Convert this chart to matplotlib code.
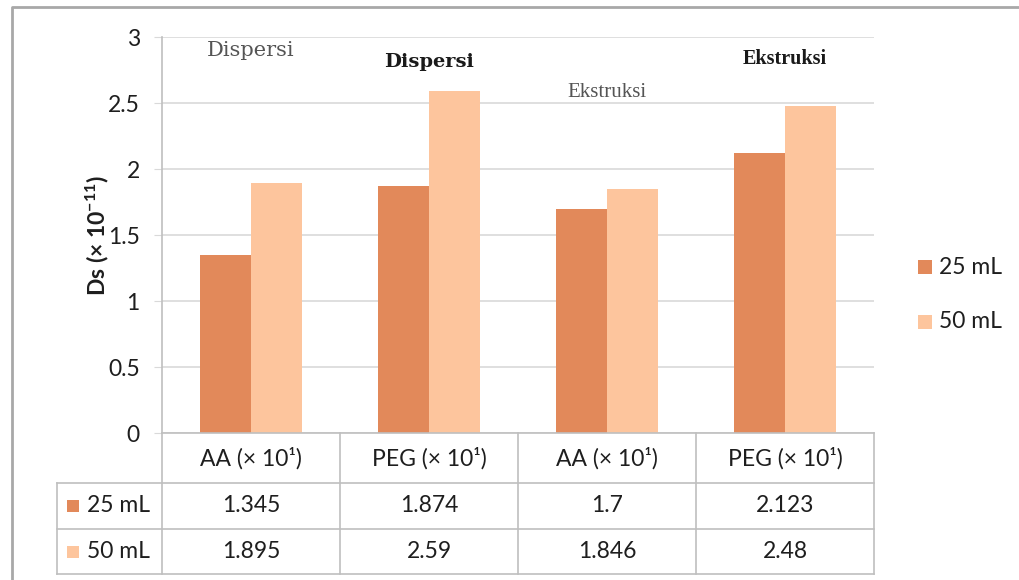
import matplotlib
matplotlib.use("Agg")
import matplotlib.pyplot as plt
from matplotlib.lines import Line2D
from matplotlib.patches import Rectangle
import numpy as np

# Data
categories = ["AA (× 10¹)", "PEG (× 10¹)", "AA (× 10¹)", "PEG (× 10¹)"]
series_names = ["25 mL", "50 mL"]
vals_25 = [1.345, 1.874, 1.7, 2.123]
vals_50 = [1.895, 2.59, 1.846, 2.48]
value_labels_25 = ["1.345", "1.874", "1.7", "2.123"]
value_labels_50 = ["1.895", "2.59", "1.846", "2.48"]
method_labels = ["Dispersi", "Dispersi", "Ekstruksi", "Ekstruksi"]
method_label_y = [2.90, 2.81, 2.58, 2.83]
method_bold = [False, True, False, True]
method_size = [15, 14, 15, 14.5]
method_font = ["DejaVu Serif", "DejaVu Serif", "Liberation Serif", "Liberation Serif"]
yticks = [0, 0.5, 1, 1.5, 2, 2.5, 3]
ytick_labels = ["0", "0.5", "1", "1.5", "2", "2.5", "3"]

plt.rcParams["font.family"] = ["Lato", "DejaVu Sans"]
plt.rcParams["mathtext.default"] = "regular"

W, H = 1020, 580
fig = plt.figure(figsize=(W / 100, H / 100), dpi=100)
fig.patch.set_facecolor("white")

def fx(px):
    return px / W

def fy(py):
    return 1 - py / H

c_dark = "#E2895A"
c_light = "#FDC59D"
grid_c = "#D9D9D9"
line_c = "#BFBFBF"
txt_c = "#1e1e1e"
fs = 16.5

ax_left, ax_right, ax_top, ax_bottom = 162, 874, 37, 433
ax = fig.add_axes([fx(ax_left), fy(ax_bottom), fx(ax_right - ax_left),
                   fy(ax_top) - fy(ax_bottom)])

x = np.arange(len(categories))
bw = 0.286
ax.bar(x - bw / 2, vals_25, width=bw, color=c_dark, zorder=3)
ax.bar(x + bw / 2, vals_50, width=bw, color=c_light, zorder=3)

ax.set_xlim(-0.5, len(categories) - 0.5)
ax.set_ylim(0, 3)
ax.set_yticks(yticks)
ax.set_yticklabels(ytick_labels, fontsize=fs, color=txt_c)
ax.set_xticks([])
ax.yaxis.grid(True, color=grid_c, linewidth=1.2, zorder=0)
ax.tick_params(axis="y", length=6, color=grid_c, pad=10)
for s in ["top", "right", "bottom"]:
    ax.spines[s].set_visible(False)
ax.spines["left"].set_color(line_c)
ax.spines["left"].set_linewidth(1.2)

# method labels above the groups
for xi, txt, yv, bold, sz, fam in zip(x, method_labels, method_label_y,
                                      method_bold, method_size, method_font):
    ax.text(xi, yv, txt, ha="center", va="center", fontsize=sz,
            family=fam, fontweight="bold" if bold else "normal",
            color="#1a1a1a" if bold else "#555555", zorder=5)

# y-axis label
fig.text(fx(97), fy(236), r"Ds (× 10$^{-11}$)", rotation=90, ha="center",
         va="center", fontsize=fs, fontweight="bold", color=txt_c)

# data table under the axis
col_w = (ax_right - ax_left) / len(categories)
row_y = [433, 483, 529, 574]
tab_left = 57

def hline(y, x0, x1):
    fig.add_artist(Line2D([fx(x0), fx(x1)], [fy(y), fy(y)], color=line_c,
                          linewidth=1.2, transform=fig.transFigure))

def vline(xp, y0, y1):
    fig.add_artist(Line2D([fx(xp), fx(xp)], [fy(y0), fy(y1)], color=line_c,
                          linewidth=1.2, transform=fig.transFigure))

hline(row_y[0], ax_left, ax_right)
for yy in row_y[1:]:
    hline(yy, tab_left, ax_right)
vline(tab_left, row_y[1], row_y[3])
vline(ax_left, row_y[0], row_y[3])
for i in range(1, len(categories) + 1):
    vline(ax_left + i * col_w, row_y[0], row_y[3])

rows = [categories, value_labels_25, value_labels_50]
for r, labels in enumerate(rows):
    yc = (row_y[r] + row_y[r + 1]) / 2
    for i, t in enumerate(labels):
        fig.text(fx(ax_left + (i + 0.5) * col_w), fy(yc), t, ha="center",
                 va="center", fontsize=fs, color=txt_c)

# series keys in the table rows
for r, (name, col) in enumerate(zip(series_names, [c_dark, c_light])):
    yc = (row_y[r + 1] + row_y[r + 2]) / 2
    fig.add_artist(Rectangle((fx(67), fy(yc + 6)), fx(12), fy(0) - fy(12),
                             facecolor=col, edgecolor="none",
                             transform=fig.transFigure))
    fig.text(fx(87), fy(yc), name, ha="left", va="center", fontsize=fs,
             color=txt_c)

# legend on the right
for yc, name, col in zip([267, 322], series_names, [c_dark, c_light]):
    fig.add_artist(Rectangle((fx(918), fy(yc + 7)), fx(14), fy(0) - fy(14),
                             facecolor=col, edgecolor="none",
                             transform=fig.transFigure))
    fig.text(fx(939), fy(yc), name, ha="left", va="center", fontsize=fs,
             color=txt_c)

# outer frame
fig.add_artist(Line2D([fx(12), fx(12), fx(1020)], [fy(580), fy(7), fy(7)],
                      color="#A8A8A8", linewidth=2,
                      transform=fig.transFigure))

fig.savefig("out.png", dpi=100, facecolor="white")
